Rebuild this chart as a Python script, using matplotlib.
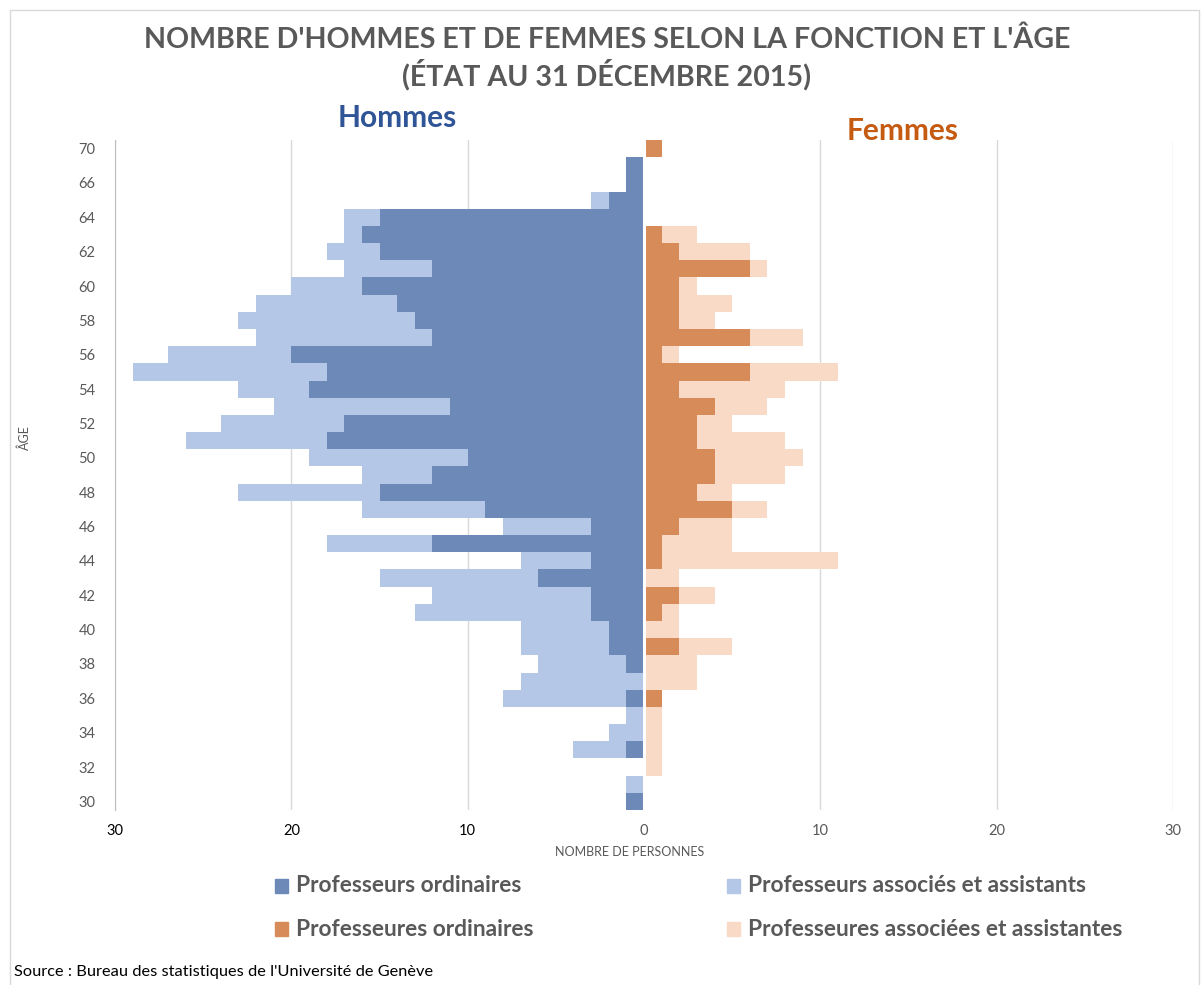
import matplotlib.pyplot as plt
from matplotlib.patches import Rectangle

plt.rcParams['font.family'] = ['Lato', 'DejaVu Sans']

# categories (one row per age; 67 row is unlabeled in the original)
ages = ['30', '31', '32', '33', '34', '35', '36', '37', '38', '39',
        '40', '41', '42', '43', '44', '45', '46', '47', '48', '49',
        '50', '51', '52', '53', '54', '55', '56', '57', '58', '59',
        '60', '61', '62', '63', '64', '65', '66', '67', '70']

hommes_ord = [1, 0, 0, 1, 0, 0, 1, 0, 1, 2,
              2, 3, 3, 6, 3, 12, 3, 9, 15, 12,
              10, 18, 17, 11, 19, 18, 20, 12, 13, 14,
              16, 12, 15, 16, 15, 2, 1, 1, 0]
hommes_ass = [0, 1, 0, 3, 2, 1, 7, 7, 5, 5,
              5, 10, 9, 9, 4, 6, 5, 7, 8, 4,
              9, 8, 7, 10, 4, 11, 7, 10, 10, 8,
              4, 5, 3, 1, 2, 1, 0, 0, 0]
femmes_ord = [0, 0, 0, 0, 0, 0, 1, 0, 0, 2,
              0, 1, 2, 0, 1, 1, 2, 5, 3, 4,
              4, 3, 3, 4, 2, 6, 1, 6, 2, 2,
              2, 6, 2, 1, 0, 0, 0, 0, 1]
femmes_ass = [0, 0, 1, 1, 1, 1, 0, 3, 3, 3,
              2, 1, 2, 2, 10, 4, 3, 2, 2, 4,
              5, 5, 2, 3, 6, 5, 1, 3, 2, 3,
              1, 1, 4, 2, 0, 0, 0, 0, 0]

labels = ['Professeurs ordinaires', 'Professeurs associés et assistants',
          'Professeures ordinaires', 'Professeures associées et assistantes']
colors = ['#6d89b8', '#b4c7e7', '#d78b58', '#f9dac6']
xticks = [-30, -20, -10, 0, 10, 20, 30]

W, H = 1203, 985
fig = plt.figure(figsize=(W / 100, H / 100), dpi=100)
ax = fig.add_axes([115 / W, 1 - 810 / H, 1058 / W, 670 / H])

y = list(range(len(ages)))
neg_ord = [-v for v in hommes_ord]
neg_ass = [-v for v in hommes_ass]
ax.barh(y, neg_ord, height=1.0, color=colors[0], linewidth=0, zorder=2)
ax.barh(y, neg_ass, left=neg_ord, height=1.0, color=colors[1], linewidth=0, zorder=2)
ax.barh(y, femmes_ord, height=1.0, color=colors[2], linewidth=0, zorder=2)
ax.barh(y, femmes_ass, left=femmes_ord, height=1.0, color=colors[3], linewidth=0, zorder=2)

ax.axvline(0, color='white', lw=2.2, zorder=3)

ax.set_xlim(-30, 30)
ax.set_ylim(-0.5, len(ages) - 0.5)
ax.set_xticks(xticks)
ax.set_xticklabels([str(abs(t)) for t in xticks], fontsize=10.5)
for lab, t in zip(ax.get_xticklabels(), xticks):
    lab.set_color('black' if t < 0 else '#595959')
ax.set_yticks(y[::2])
ax.set_yticklabels(ages[::2], fontsize=10.5, color='#595959')
ax.tick_params(length=0)
ax.tick_params(axis='x', pad=10)
ax.tick_params(axis='y', pad=14)
ax.grid(axis='x', color='#d9d9d9', lw=1, zorder=0)
ax.set_axisbelow(True)
for s in ['top', 'right', 'bottom']:
    ax.spines[s].set_visible(False)
ax.spines['left'].set_color('#bfbfbf')

fig.text(630 / W, 1 - 852 / H, 'NOMBRE DE PERSONNES', fontsize=9, color='#595959',
         ha='center', va='center')
fig.text(25 / W, 1 - 438 / H, 'ÂGE', fontsize=9, color='#595959', rotation=90,
         ha='center', va='center')

fig.text(607 / W, 1 - 40 / H, "NOMBRE D'HOMMES ET DE FEMMES SELON LA FONCTION ET L'ÂGE",
         fontsize=20.6, fontweight='bold', color='#595959', ha='center', va='center')
fig.text(607 / W, 1 - 75 / H, "(ÉTAT AU 31 DÉCEMBRE 2015)",
         fontsize=20.6, fontweight='bold', color='#595959', ha='center', va='center')
fig.text(397 / W, 1 - 118 / H, 'Hommes', fontsize=21.5, fontweight='bold', color='#2f5597',
         ha='center', va='center')
fig.text(903 / W, 1 - 131 / H, 'Femmes', fontsize=21.5, fontweight='bold', color='#c55a11',
         ha='center', va='center')

# legend drawn by hand, two columns
leg_x = [275, 727, 275, 727]
leg_y = [886, 886, 929, 929]
for lx, ly, lab, col in zip(leg_x, leg_y, labels, colors):
    fig.patches.append(Rectangle((lx / W, 1 - (ly + 7) / H), 13 / W, 14 / H,
                                 transform=fig.transFigure, color=col))
    fig.text((lx + 21) / W, 1 - ly / H, lab, fontsize=16.4, fontweight='bold',
             color='#595959', ha='left', va='center')

fig.text(14 / W, 1 - 972 / H, "Source : Bureau des statistiques de l'Université de Genève",
         fontsize=11.8, color='black', ha='left', va='center')

fig.patches.append(Rectangle((10 / W, -0.02), 1189 / W, 1.02 - 10 / H, transform=fig.transFigure,
                             fill=False, edgecolor='#d9d9d9', lw=1))

fig.savefig('out.png', dpi=100)
